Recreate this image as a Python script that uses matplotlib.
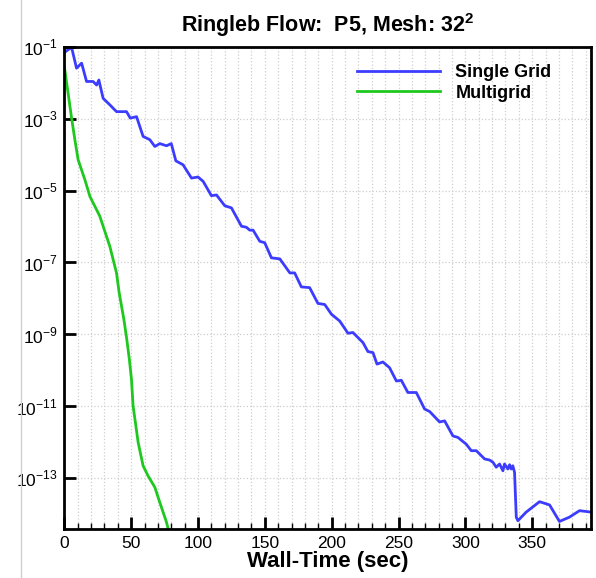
import numpy as np
import matplotlib
matplotlib.use("Agg")
import matplotlib.pyplot as plt
from matplotlib.ticker import FixedLocator, FuncFormatter, MultipleLocator, NullLocator
from matplotlib.lines import Line2D

plt.rcParams['font.family'] = ['Liberation Sans', 'DejaVu Sans']
plt.rcParams['mathtext.fontset'] = 'custom'
plt.rcParams['mathtext.rm'] = 'Liberation Sans'
plt.rcParams['mathtext.bf'] = 'Liberation Sans:bold'
plt.rcParams['axes.unicode_minus'] = False

# Single Grid residual history (time in sec, log10 residual)
single_t = [0, 5.4, 9.1, 12.9, 16.6, 21.5, 24.1, 25.8, 29.0, 34.0, 39.0, 46.5, 49.3,
            54.0, 58.9, 63.9, 67.7, 71.4, 76.4, 80.0, 83.4, 88.8, 95.1, 100.0, 103.8,
            110.0, 113.8, 120.0, 125.0, 132.5, 136.2, 138.7, 141.2, 146.2, 149.9,
            154.9, 161.2, 168.7, 172.3, 177.3, 183.5, 189.7, 194.8, 199.8, 206.0,
            212.2, 215.9, 223.4, 227.1, 230.9, 233.9, 238.3, 243.3, 248.4, 252.1,
            257.0, 263.3, 269.5, 273.3, 280.7, 284.5, 290.7, 294.4, 300.7, 304.4,
            308.2, 314.4, 318.1, 320.6, 323.1, 325.6, 328.1, 329.3, 331.8, 333.1,
            334.3, 335.5, 336.8, 338.1, 339.3, 345.5, 355.5, 363.0, 370.4, 377.9,
            385.4, 394.0]
single_log = [-1.15, -1.01, -1.59, -1.45, -1.96, -1.96, -2.06, -1.92, -2.43, -2.61,
              -2.80, -2.80, -2.98, -2.94, -3.49, -3.58, -3.77, -3.69, -3.75, -3.69,
              -4.17, -4.28, -4.65, -4.62, -4.74, -5.14, -5.12, -5.42, -5.48, -5.99,
              -6.02, -6.10, -6.10, -6.41, -6.45, -6.87, -6.90, -7.29, -7.29, -7.68,
              -7.70, -8.14, -8.17, -8.44, -8.63, -8.97, -8.95, -9.23, -9.48, -9.51,
              -9.83, -9.77, -9.93, -10.30, -10.28, -10.62, -10.62, -11.08, -11.15,
              -11.44, -11.41, -11.83, -11.87, -12.06, -12.24, -12.24, -12.47, -12.50,
              -12.56, -12.70, -12.61, -12.80, -12.61, -12.75, -12.63, -12.75, -12.66,
              -12.84, -14.09, -14.19, -13.95, -13.66, -13.75, -14.21, -14.09, -13.91,
              -13.95]

# Multigrid residual history
multi_t = [0, 2.8, 5.4, 7.85, 10.3, 15.3, 19.1, 26.5, 34.0, 39.0, 41.0, 44.5, 46.7,
           48.6, 50.2, 51.4, 55.2, 58.9, 62.6, 67.7, 71.4, 76.4, 78.5]
multi_log = [-1.55, -2.29, -2.98, -3.58, -4.14, -4.69, -5.16, -5.71, -6.55, -7.29,
             -7.84, -8.58, -9.14, -9.69, -10.25, -10.99, -12.01, -12.66, -12.94,
             -13.26, -13.68, -14.23, -14.55]

fig = plt.figure(figsize=(5.96, 5.78), dpi=100)
ax = fig.add_axes([0.108, 0.0848, 0.8836, 0.8339])

ax.plot(single_t, 10.0 ** np.array(single_log), color='#3c3cff', lw=2.0, label='Single Grid')
ax.plot(multi_t, 10.0 ** np.array(multi_log), color='#1ec81e', lw=2.0, label='Multigrid')

ax.set_yscale('log')
ax.set_xlim(0, 394)
ax.set_ylim(10 ** -14.42, 10 ** -1)

ax.xaxis.set_major_locator(MultipleLocator(50))
ax.xaxis.set_minor_locator(MultipleLocator(10))
ax.yaxis.set_major_locator(FixedLocator([10.0 ** e for e in range(-1, -14, -2)]))
ax.yaxis.set_minor_locator(NullLocator())
ax.yaxis.set_major_formatter(FuncFormatter(lambda v, p: r'$10^{%d}$' % round(np.log10(v))))

ax.tick_params(axis='both', which='major', direction='in', length=8.6, width=2,
               labelsize=12.5, top=False, right=False, pad=5)
ax.tick_params(axis='x', which='minor', direction='in', length=4.3, width=1, top=False)
for s in ax.spines.values():
    s.set_linewidth(2)

ax.grid(True, which='major', axis='y', color='#cfcfcf', ls=':', lw=0.9)
ax.grid(True, which='both', axis='x', color='#cfcfcf', ls=':', lw=0.9)

ax.set_title(r'Ringleb Flow:  P5, Mesh: $\mathbf{32^2}$', fontsize=15.5, fontweight='bold', pad=11)
ax.set_xlabel('Wall-Time (sec)', fontsize=16, fontweight='bold', labelpad=0)

leg = ax.legend(loc='upper right', bbox_to_anchor=(0.956, 0.998), frameon=False,
                prop={'weight': 'bold', 'size': 13}, handlelength=4.6,
                handletextpad=0.85, labelspacing=0.2)

# faint border line of the original page at the left
fig.add_artist(Line2D([21 / 596, 21 / 596], [0, 1], color='#d0d0d0', lw=1))

fig.savefig('out.png', dpi=100)
